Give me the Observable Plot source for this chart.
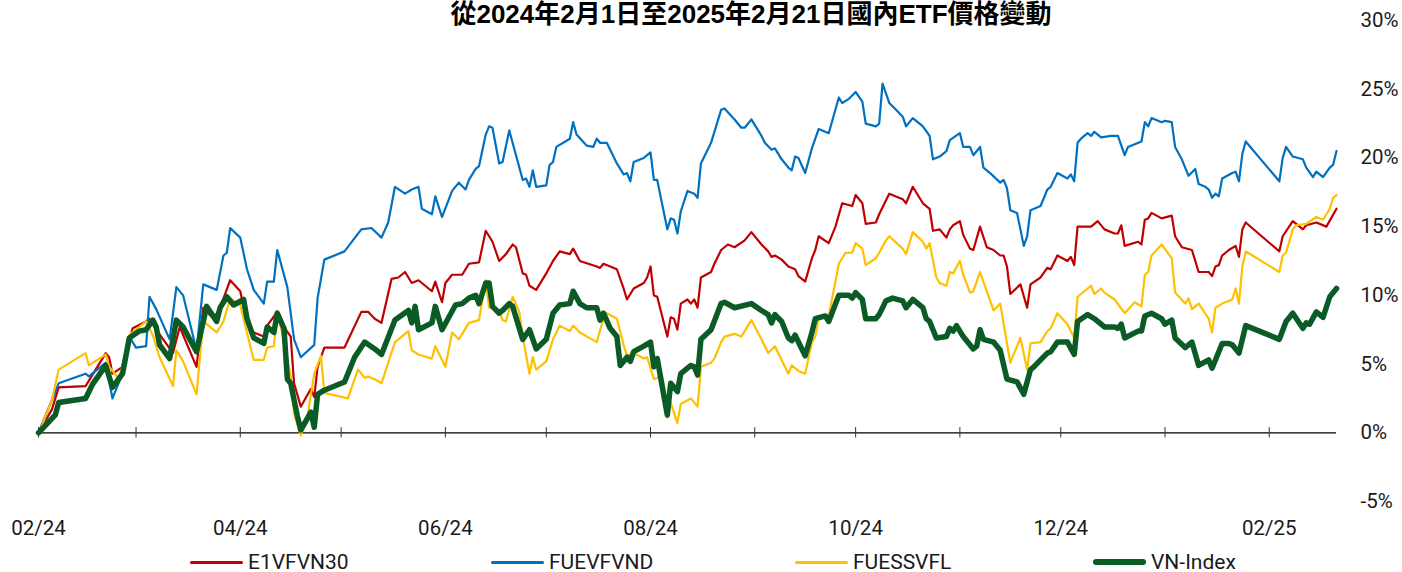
<!DOCTYPE html>
<html><head><meta charset="utf-8">
<script src="https://cdn.jsdelivr.net/npm/d3@7"></script>
<script src="https://cdn.jsdelivr.net/npm/@observablehq/plot@0.6"></script>
<style>
body{margin:0;background:#fff;width:1402px;height:572px;position:relative;overflow:hidden;font-family:Roboto,"Noto Sans",sans-serif;}
#title{position:absolute;left:401px;width:700px;top:1px;text-align:center;font:bold 26px/26px "Liberation Sans","Noto Sans CJK TC",sans-serif;color:#000;white-space:nowrap;}
#chart{position:absolute;left:0;top:0;}
.leg{position:absolute;top:551px;height:22px;display:flex;align-items:center;font-size:21px;color:#1a1a1a;white-space:nowrap;font-family:Roboto,sans-serif}
.leg .sw{display:inline-block;width:53px;margin-right:5px;border-radius:3px}
</style></head><body>
<div id="title">從2024年2月1日至2025年2月21日國內ETF價格變動</div>
<div id="chart"></div>
<div id="legend"></div>
<script>
// Day offsets from start date, percent change
const startDate = "2024-02-01";
const endDate = "2025-02-21";
const seriesNames = ["E1VFVN30","FUEVFVND","FUESSVFL","VN-Index"];
const seriesColors = ["#C00000","#0070C0","#FFC000","#0B5B27"];
const yTicks = [-5,0,5,10,15,20,25,30];
const monthTicks = ["2024-02-01","2024-03-01","2024-04-01","2024-05-01","2024-06-01","2024-07-01","2024-08-01","2024-09-01","2024-10-01","2024-11-01","2024-12-01","2025-01-01","2025-02-01"];
const xLabelMonths = ["2024-02-01","2024-04-01","2024-06-01","2024-08-01","2024-10-01","2024-12-01","2025-02-01"];

const e1vfvn30 = [[0,0],[4,1.7],[6,3.3],[14,3.4],[20,5.8],[21,5.5],[22,4.3],[25,4.8],[28,7.6],[32,8.1],[33,8.3],[35,7.5],[40,5.8],[42,7.7],[47,4.8],[49,9.1],[52,8.3],[54,9.1],[57,11.1],[60,10.3],[62,8.0],[64,7.3],[67,7.0],[68,7.8],[71,8.8],[73,7.7],[75,7.0],[76,3.6],[78,1.9],[81,3.2],[82,2.6],[83,4.8],[85,6.2],[91,6.2],[96,8.8],[98,8.8],[100,8.3],[102,8.0],[105,11.2],[107,11.3],[109,11.7],[111,10.9],[113,11.1],[117,10.3],[118,11.0],[120,9.5],[121,10.9],[123,11.5],[126,11.5],[128,12.3],[131,12.4],[133,14.7],[135,13.9],[137,12.5],[139,13.0],[141,13.7],[142,13.5],[144,11.6],[145,11.5],[146,10.7],[148,10.4],[151,11.6],[153,12.5],[155,13.2],[158,13.0],[159,13.4],[161,12.5],[166,12.1],[167,12.0],[168,12.3],[172,11.9],[174,10.5],[175,9.7],[177,10.5],[180,10.9],[181,11.3],[182,12.1],[183,10.0],[184,9.9],[187,7.0],[188,8.4],[189,8.3],[190,7.5],[191,9.4],[193,9.7],[194,9.4],[195,9.7],[196,9.1],[197,11.3],[200,11.7],[201,12.3],[203,13.3],[205,13.7],[207,13.5],[210,14.0],[212,14.6],[215,13.7],[217,13.2],[218,12.8],[219,12.9],[221,12.6],[223,12.1],[225,11.9],[226,11.4],[228,11.0],[230,12.7],[231,13.3],[232,14.3],[235,13.8],[237,15.0],[239,16.7],[242,16.5],[243,17.3],[245,16.7],[246,15.2],[249,15.3],[250,15.9],[252,16.9],[253,17.4],[257,17.0],[258,16.7],[260,17.9],[263,16.7],[265,16.3],[266,14.7],[268,14.8],[270,14.2],[271,14.8],[272,15.1],[274,15.4],[275,14.4],[277,13.4],[278,13.3],[280,15.0],[282,13.5],[284,13.3],[286,12.9],[287,12.9],[288,12.1],[289,10.1],[292,10.8],[294,9.1],[295,10.8],[298,11.3],[300,12.0],[301,11.9],[303,12.9],[306,12.5],[307,12.8],[308,12.2],[309,15.0],[313,15.0],[315,15.4],[317,14.8],[320,14.5],[321,14.5],[322,15.1],[323,13.6],[327,13.9],[328,13.7],[329,15.5],[330,15.6],[331,16.0],[334,15.6],[337,15.8],[338,14.3],[340,13.5],[343,13.3],[345,11.7],[348,11.7],[349,11.4],[350,12.1],[351,12.2],[352,12.9],[354,13.3],[356,13.6],[357,12.8],[358,14.8],[359,15.3],[369,13.2],[370,14.3],[373,15.4],[376,14.8],[377,15.1],[380,15.3],[383,15.0],[386,16.3]];

const fuevfvnd = [[0,0],[6,3.6],[14,4.3],[15,4.1],[20,5.1],[22,2.5],[25,4.3],[27,7.0],[29,6.2],[32,6.3],[33,9.9],[35,9.0],[39,6.8],[41,10.6],[43,10.0],[47,6.0],[49,10.8],[53,10.4],[55,12.9],[56,13.1],[57,14.9],[60,14.2],[62,11.9],[64,10.4],[67,9.4],[68,11.0],[70,11.0],[71,13.3],[74,10.6],[76,6.8],[78,5.5],[82,6.4],[83,9.8],[85,12.6],[91,13.2],[96,14.8],[99,14.9],[102,14.2],[104,15.3],[106,17.9],[109,17.4],[111,17.7],[113,17.9],[114,16.3],[117,15.9],[118,17.2],[120,15.7],[123,17.6],[125,18.2],[127,17.7],[128,18.4],[130,19.2],[131,19.4],[133,21.7],[134,22.3],[135,22.2],[137,19.6],[138,19.7],[140,22.0],[144,18.4],[145,18.5],[146,17.9],[147,19.1],[148,17.9],[151,18.0],[152,19.5],[153,19.7],[154,20.8],[158,21.4],[159,22.6],[160,21.7],[163,20.9],[165,20.8],[166,21.4],[167,21.1],[169,21.1],[172,19.6],[174,18.8],[175,18.9],[176,18.3],[177,19.7],[180,20.0],[182,20.4],[183,18.4],[184,18.4],[187,14.8],[188,15.6],[189,15.5],[190,14.5],[191,16.1],[193,17.6],[195,17.4],[196,17.1],[197,19.6],[200,21.1],[201,21.9],[203,23.5],[204,23.6],[207,22.8],[209,22.2],[210,22.2],[212,22.8],[215,21.6],[216,21.1],[218,20.6],[219,20.7],[221,19.9],[223,19.3],[224,19.1],[225,20.1],[226,20.0],[228,18.9],[230,20.7],[231,21.4],[232,22.1],[235,21.8],[238,24.4],[239,24.0],[241,24.3],[243,24.8],[245,24.1],[246,22.5],[249,22.3],[250,22.5],[251,25.4],[253,24.0],[255,23.5],[257,23.0],[258,22.3],[260,22.9],[263,22.3],[265,21.6],[266,19.9],[268,20.1],[270,20.5],[271,21.3],[274,21.8],[275,20.8],[277,20.8],[278,20.2],[280,20.8],[281,19.3],[283,18.9],[286,18.2],[287,18.4],[288,17.8],[289,16.2],[291,16.0],[293,13.6],[294,14.3],[295,16.2],[298,16.5],[300,17.7],[301,17.9],[303,18.9],[306,18.5],[307,18.8],[308,18.3],[309,21.1],[310,21.4],[312,21.8],[313,21.6],[314,21.9],[316,21.5],[319,21.6],[321,21.6],[323,20.2],[324,20.8],[328,21.2],[329,22.6],[330,22.3],[331,22.9],[334,22.6],[335,22.7],[337,22.6],[338,20.8],[340,19.9],[342,18.7],[344,19.2],[345,18.1],[347,17.9],[348,17.7],[349,17.1],[350,17.4],[351,17.2],[352,18.5],[355,18.9],[356,19.0],[357,18.3],[358,20.3],[359,21.2],[369,18.3],[370,20.0],[371,20.8],[373,20.1],[376,19.9],[377,19.3],[379,18.6],[380,19.0],[382,18.6],[384,19.3],[385,19.5],[386,20.5]];

const fuessvfl = [[0,-0.1],[4,2.4],[6,4.6],[14,5.8],[15,4.9],[20,5.7],[21,4.8],[24,3.9],[27,7.1],[32,8.1],[34,7.1],[36,5.5],[40,3.4],[41,6.0],[43,5.2],[47,2.8],[49,8.1],[53,7.3],[55,8.1],[57,9.8],[60,9.3],[62,7.3],[64,5.3],[67,5.3],[68,6.2],[70,6.3],[71,8.9],[73,6.6],[75,4.1],[76,1.4],[78,-0.2],[80,1.2],[82,4.3],[84,5.6],[85,2.9],[92,2.5],[95,4.6],[97,4.0],[98,4.1],[100,3.9],[102,3.6],[106,6.6],[110,7.4],[111,6.0],[113,5.7],[117,5.4],[118,6.3],[121,4.8],[123,7.3],[125,6.8],[128,8.0],[131,8.2],[133,11.1],[134,9.1],[137,8.9],[138,8.2],[139,8.1],[141,9.9],[143,8.8],[144,7.0],[146,4.3],[147,5.5],[148,4.6],[151,5.2],[153,6.8],[155,7.8],[158,7.4],[159,7.8],[161,7.3],[166,6.6],[168,8.3],[169,8.7],[172,8.3],[174,6.4],[175,5.6],[177,5.8],[180,5.4],[181,5.5],[183,3.9],[185,4.1],[187,1.1],[188,2.2],[190,0.7],[191,2.1],[194,2.5],[196,1.9],[197,4.8],[200,5.1],[201,5.4],[203,6.6],[204,7.0],[207,7.2],[209,7.0],[210,7.4],[212,8.2],[215,6.8],[217,5.8],[219,6.3],[221,5.3],[223,4.3],[224,4.9],[226,4.5],[228,4.3],[230,6.6],[231,7.0],[232,8.3],[235,8.5],[238,12.3],[240,13.1],[242,13.1],[243,13.8],[245,13.4],[246,12.2],[249,12.7],[250,13.1],[252,14.0],[253,14.3],[257,13.4],[258,13.0],[260,14.6],[263,13.9],[264,13.4],[265,13.8],[267,11.3],[268,10.9],[270,10.7],[271,11.7],[272,11.6],[274,12.5],[275,11.5],[277,10.2],[278,10.3],[280,11.7],[284,8.9],[286,9.4],[289,5.1],[292,6.9],[294,4.6],[295,6.5],[298,6.6],[300,7.4],[301,7.6],[303,8.7],[306,7.9],[308,6.9],[309,9.9],[313,10.7],[314,10.1],[316,10.5],[317,10.2],[320,9.7],[323,8.7],[326,9.5],[328,9.2],[329,11.5],[330,11.7],[331,12.9],[334,13.7],[337,12.7],[338,10.2],[341,9.4],[342,9.8],[343,9.0],[345,9.4],[348,8.3],[349,7.3],[350,9.1],[352,9.4],[355,9.7],[356,10.5],[357,9.4],[358,12.1],[359,13.2],[369,11.7],[370,12.9],[371,13.1],[373,14.8],[374,15.1],[377,15.2],[380,15.7],[382,15.5],[384,16.3],[385,17.1],[386,17.3]];

const vnIndex = [[0,0],[5,1.3],[6,2.2],[14,2.5],[16,3.5],[20,4.9],[22,3.3],[25,4.3],[27,6.9],[30,7.4],[32,7.5],[34,8.2],[35,7.7],[36,6.4],[39,5.4],[41,8.2],[43,7.7],[47,5.9],[50,9.2],[53,8.1],[54,9.1],[56,9.9],[58,9.3],[61,9.7],[62,8.3],[64,6.9],[67,6.5],[68,7.7],[70,7.3],[71,8.7],[73,7.6],[74,3.9],[75,3.6],[77,1.2],[78,0.2],[81,1.5],[82,0.4],[83,2.8],[85,3.1],[91,3.7],[94,5.5],[97,6.6],[100,6.1],[102,5.7],[106,8.2],[110,8.9],[111,8.0],[112,9.2],[113,7.5],[117,8.0],[118,9.2],[120,7.5],[124,9.3],[126,9.4],[128,9.8],[130,10.0],[131,9.4],[133,10.9],[134,10.9],[135,9.2],[137,8.7],[138,8.9],[140,9.4],[141,9.2],[144,6.8],[146,7.5],[148,6.1],[151,6.8],[153,8.7],[155,9.3],[158,9.4],[159,10.3],[161,9.4],[163,9.1],[166,9.1],[167,8.2],[168,8.7],[170,7.6],[172,7.0],[173,4.9],[175,5.5],[176,5.2],[177,5.9],[180,6.3],[182,6.6],[183,4.8],[184,5.4],[187,1.3],[188,3.6],[190,3.0],[191,4.3],[194,4.9],[195,4.8],[196,4.2],[197,6.8],[200,7.5],[203,9.4],[204,9.5],[207,9.1],[212,9.4],[215,8.9],[217,8.6],[218,8.0],[219,8.6],[221,8.1],[223,6.9],[224,6.7],[225,7.1],[228,5.6],[230,7.3],[231,8.3],[234,8.5],[235,8.1],[238,10.0],[241,10.0],[242,9.8],[243,10.2],[245,9.7],[246,8.3],[249,8.3],[250,8.6],[252,9.6],[254,9.8],[257,9.6],[258,9.1],[260,9.7],[263,9.1],[264,8.3],[265,8.1],[267,6.9],[270,7.0],[271,7.6],[272,7.4],[273,7.8],[275,7.0],[278,6.1],[279,6.3],[280,7.5],[281,6.8],[284,6.6],[286,6.0],[288,3.9],[291,3.7],[293,2.8],[295,4.6],[296,4.8],[298,5.3],[300,5.8],[301,5.9],[303,6.6],[306,6.6],[308,5.7],[309,8.1],[312,8.6],[314,8.3],[317,7.7],[320,7.7],[321,7.6],[322,7.9],[323,6.9],[327,7.4],[328,7.4],[329,8.5],[331,8.7],[334,8.3],[335,7.9],[337,8.2],[338,6.9],[341,6.2],[343,6.6],[345,4.9],[348,5.3],[349,4.7],[352,6.5],[354,6.5],[355,6.4],[357,5.8],[359,7.8],[369,6.8],[371,8.1],[373,8.7],[376,7.6],[377,8.0],[378,7.9],[380,8.8],[382,8.4],[384,9.9],[386,10.5]];

const seriesData = [e1vfvn30, fuevfvnd, fuessvfl, vnIndex];
const seriesWidths = [2.2, 2.2, 2.2, 5.5];

const base = new Date(startDate + "T00:00:00Z");
const toDate = d => d3.utcDay.offset(base, d);
const parse = s => new Date(s + "T00:00:00Z");

const lineMarks = seriesData.map((pts, i) =>
  Plot.line(pts, {x: p => toDate(p[0]), y: p => p[1], stroke: seriesColors[i], strokeWidth: seriesWidths[i], strokeLinejoin: "round", strokeLinecap: "round"})
);

const chart = Plot.plot({
  width: 1402,
  height: 545,
  marginLeft: 38,
  marginRight: 66,
  marginTop: 20,
  marginBottom: 44,
  style: {fontFamily: "Roboto, sans-serif", fontSize: "20.5px", color: "#1a1a1a", background: "transparent", overflow: "visible"},
  x: {type: "utc", domain: [parse(startDate), parse(endDate)]},
  y: {domain: [-5, 30]},
  marks: [
    Plot.axisX({ticks: xLabelMonths.map(parse), tickFormat: d3.utcFormat("%m/%y"), tickSize: 0, tickPadding: 19, label: null}),
    Plot.axisY({ticks: yTicks, anchor: "right", tickSize: 0, tickPadding: 24, textAnchor: "start", tickFormat: d => d + "%", label: null}),
    Plot.ruleY([0], {stroke: "#000", strokeWidth: 1.3}),
    Plot.ruleX(monthTicks.map(parse), {y1: -0.38, y2: 0.38, stroke: "#333", strokeWidth: 1}),
    ...lineMarks
  ]
});
document.getElementById("chart").appendChild(chart);

const legendLeft = [190, 491, 795, 1093];
const legend = document.getElementById("legend");
seriesNames.forEach((name, i) => {
  const item = document.createElement("div");
  item.className = "leg";
  item.style.left = legendLeft[i] + "px";
  const sw = document.createElement("span");
  sw.className = "sw";
  sw.style.height = (i === 3 ? 6 : 3) + "px";
  sw.style.background = seriesColors[i];
  item.appendChild(sw);
  item.appendChild(document.createTextNode(name));
  legend.appendChild(item);
});
</script></body></html>
